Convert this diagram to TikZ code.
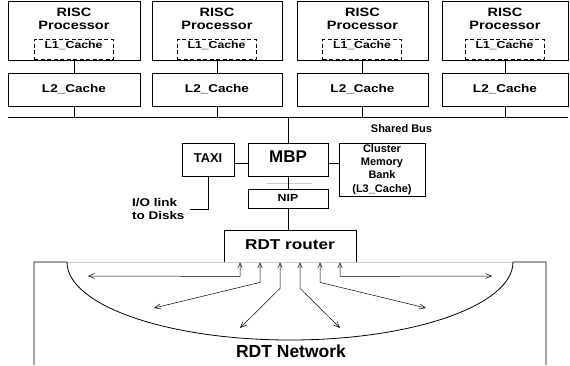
\documentclass[tikz,border=0pt]{standalone}
\usepackage{fontspec}
\setmainfont[FakeStretch=1.2]{Liberation Sans}
\newfontfamily\plainsf{Liberation Sans}
\usetikzlibrary{arrows.meta}

\begin{document}
\begin{tikzpicture}[x=1pt, y=-1pt,
  ln/.style={line width=0.8pt},
  frame/.style={draw, line width=0.8pt, inner sep=0pt},
  box/.style={frame, text height=0.69em, text depth=0pt},
  lbl/.style={inner sep=0pt, text height=0.69em, text depth=0pt},
  l1box/.style={draw, line width=0.8pt, dash pattern=on 4pt off 2.5pt, inner sep=0pt},
  sz/.style={font=\bfseries\fontsize{#1}{#1}\selectfont},
  psz/.style={font=\plainsf\bfseries\fontsize{#1}{#1}\selectfont},
  arr/.style={{Straight Barb[length=5pt,width=4.5pt]}-{Straight Barb[length=6pt,width=5pt]}, line width=0.5pt},
  faint/.style={gray!40, line width=0.5pt}
]
\useasboundingbox (0,0) rectangle (570,365);

% processors with their L1 and L2 caches
\foreach \i/\cx/\w in {1/74/132, 2/217/130, 3/362.5/131, 4/505/126} {
  \node[frame, minimum width=\w pt, minimum height=59pt] (p\i) at (\cx,30.5) {};
  \node[lbl, sz=12.1] (risc\i) at (\cx,13) {RISC};
  \node[lbl, sz=12.1] (proc\i) at (\cx,26.5) {Processor};
  \node[l1box, minimum width=79pt, minimum height=20pt] (l1\i) at (\cx-0.5,49.5) {};
  \node[lbl, sz=10.2] (l1t\i) at (\cx-0.5,45.5) {L1\_Cache};
  \node[box, sz=11.3, minimum width=\w pt, minimum height=33pt] (l2\i) at (\cx,89.5) {L2\_Cache};
}

% shared bus
\coordinate (busw) at (8,117);
\coordinate (buse) at (568,117);
\draw[ln] (busw) -- (buse);
\foreach \i in {1,...,4} {
  \draw[ln] (p\i) -- (l2\i);
  \draw[ln] (l2\i) -- (l2\i |- busw);
}
\node[lbl, psz=11] (sbus) at (401.5,129) {Shared Bus};

% cluster node
\node[box, psz=17, minimum width=80pt, minimum height=33pt] (mbp) at (288,159.5) {MBP};
\node[box, psz=12.8, minimum width=52pt, minimum height=33pt] (taxi) at (208,159.5) {TAXI};
\node[frame, minimum width=86pt, minimum height=53pt, align=center,
      font=\plainsf\bfseries\fontsize{11}{13.2}\selectfont] (clu) at (382,169.5)
      {Cluster\\Memory\\Bank\\(L3\_Cache)};
\node[box, sz=10.3, minimum width=80pt, minimum height=19pt] (nip) at (288,198.5) {NIP};

\draw[ln] (mbp.north |- busw) -- (mbp.north);
\draw[ln] ([yshift=-3.5pt]taxi.east) -- ([yshift=-3.5pt]taxi.east -| mbp.west);
\draw[ln] ([yshift=-3.5pt]mbp.east) -- ([yshift=-3.5pt]mbp.east -| clu.west);
\draw[faint] (267,183) -- (312,183);
\draw[ln] (mbp) -- (nip);

% I/O link
\coordinate (ioend) at (190,209);
\draw[ln] (taxi.south) |- (ioend);
\node[inner sep=0pt, anchor=west, align=left,
      font=\bfseries\fontsize{11.2}{13}\selectfont] (io) at (132,209) {I/O link\\to Disks};

% router and network
\node[box, sz=14.3, minimum width=132pt, minimum height=32pt] (rtr) at (290,246) {RDT router};
\draw[ln] (nip.south) -- (nip.south |- rtr.north);

\draw[faint] (67,262) -- (513,262);
\draw[ln] (34,365) -- (34,262) -- (67,262)
  .. controls (67,305.1) and (166.8,340) .. (290,340)
  .. controls (413.2,340) and (513,305.1) .. (513,262)
  -- (546,262) -- (546,365);

\foreach \i/\dx/\h/\ex/\ey in {1/-50/276/88/276, 2/-30/282/154/308, 3/-10/288/240/328,
                               4/10/288/340/328, 5/30/282/426/308, 6/50/276/492/276} {
  \coordinate (end\i) at (\ex,\ey);
  \draw[arr] ([xshift=\dx pt]rtr.south) -- ++(0,\h-262) -- (end\i);
}

\node[lbl, psz=17.5] (net) at (291,354) {RDT Network};
\end{tikzpicture}
\end{document}
